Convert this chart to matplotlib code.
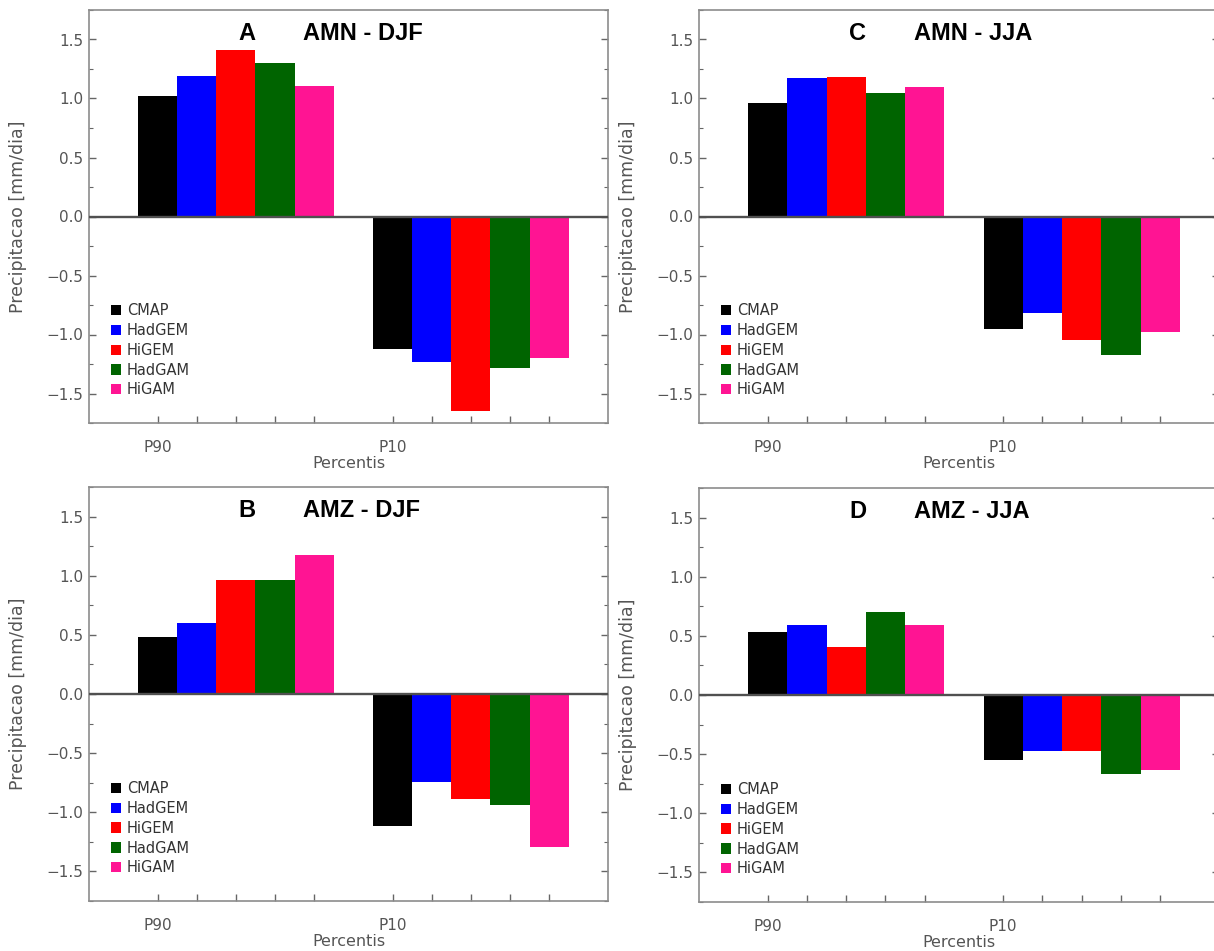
import numpy as np
import matplotlib.pyplot as plt
from matplotlib.ticker import MultipleLocator

plt.rcParams["font.family"] = ["DejaVu Sans"]

models = ["CMAP", "HadGEM", "HiGEM", "HadGAM", "HiGAM"]
colors = ["black", "#0000ff", "#ff0000", "#006400", "#ff1493"]
percentis = ["P90", "P10"]

# valores (mm/dia)
amn_djf_p90 = [1.02, 1.19, 1.41, 1.30, 1.11]
amn_djf_p10 = [-1.12, -1.23, -1.65, -1.28, -1.20]
amn_jja_p90 = [0.96, 1.17, 1.18, 1.05, 1.10]
amn_jja_p10 = [-0.955, -0.82, -1.045, -1.175, -0.98]
amz_djf_p90 = [0.485, 0.60, 0.96, 0.96, 1.175]
amz_djf_p10 = [-1.12, -0.74, -0.89, -0.94, -1.29]
amz_jja_p90 = [0.535, 0.59, 0.41, 0.705, 0.59]
amz_jja_p10 = [-0.55, -0.475, -0.475, -0.67, -0.63]

W, H = 1214, 951
fig = plt.figure(figsize=(W / 100, H / 100), dpi=100)


def px_rect(left, top, w, h):
    return [left / W, 1 - (top + h) / H, w / W, h / H]


panels = [
    ("A", "AMN - DJF", amn_djf_p90, amn_djf_p10, px_rect(89, 10, 519, 413)),
    ("C", "AMN - JJA", amn_jja_p90, amn_jja_p10, px_rect(699, 10, 520, 413)),
    ("B", "AMZ - DJF", amz_djf_p90, amz_djf_p10, px_rect(89, 487, 519, 414)),
    ("D", "AMZ - JJA", amz_jja_p90, amz_jja_p10, px_rect(699, 488, 520, 414)),
]

gray_txt = "#555555"
gray_line = "#8c8c8c"
title_font = ["Liberation Sans", "DejaVu Sans"]

for letter, title, p90, p10, rect in panels:
    ax = fig.add_axes(rect)
    for i, m in enumerate(models):
        ax.bar([i, i + 6], [p90[i], p10[i]], width=1.0, color=colors[i], label=m)
    ax.axhline(0, color="#505050", lw=1.7, zorder=3)

    ax.set_xlim(-1.75, 11.5)
    ax.set_ylim(-1.75, 1.75)
    ticks = list(range(5)) + list(range(6, 11))
    ax.set_xticks(ticks)
    ax.set_xticklabels([percentis[0]] + [""] * 4 + [percentis[1]] + [""] * 4)
    ax.yaxis.set_major_locator(MultipleLocator(0.5))
    ax.yaxis.set_minor_locator(MultipleLocator(0.25))

    ax.tick_params(which="both", direction="in", right=True, top=False,
                   color="#666666", labelcolor=gray_txt, labelsize=11)
    ax.tick_params(which="major", length=5, width=1.0)
    ax.tick_params(which="minor", length=3, width=0.8)
    ax.tick_params(axis="x", pad=12)
    ax.tick_params(axis="y", pad=4)
    for s in ax.spines.values():
        s.set_color(gray_line)
        s.set_linewidth(1.2)

    ax.set_ylabel("Precipitacao [mm/dia]", color=gray_txt, fontsize=12.5)
    ax.yaxis.set_label_coords(-0.12, 0.5)
    ax.set_xlabel("Percentis", color=gray_txt, fontsize=11.5)
    ax.xaxis.set_label_coords(0.5, -0.08)

    ax.text(0.305, 0.944, letter, transform=ax.transAxes, ha="center", va="center",
            fontsize=17, fontweight="bold", family=title_font)
    ax.text(0.413, 0.944, title, transform=ax.transAxes, ha="left", va="center",
            fontsize=17, fontweight="bold", family=title_font)

    ax.legend(loc="lower left", bbox_to_anchor=(0.042, 0.062), frameon=False,
              fontsize=10.5, handlelength=0.7, handleheight=0.7, handletextpad=0.4,
              labelspacing=0.33, borderpad=0, borderaxespad=0, labelcolor="#333333")

fig.savefig("out.png", dpi=100)
